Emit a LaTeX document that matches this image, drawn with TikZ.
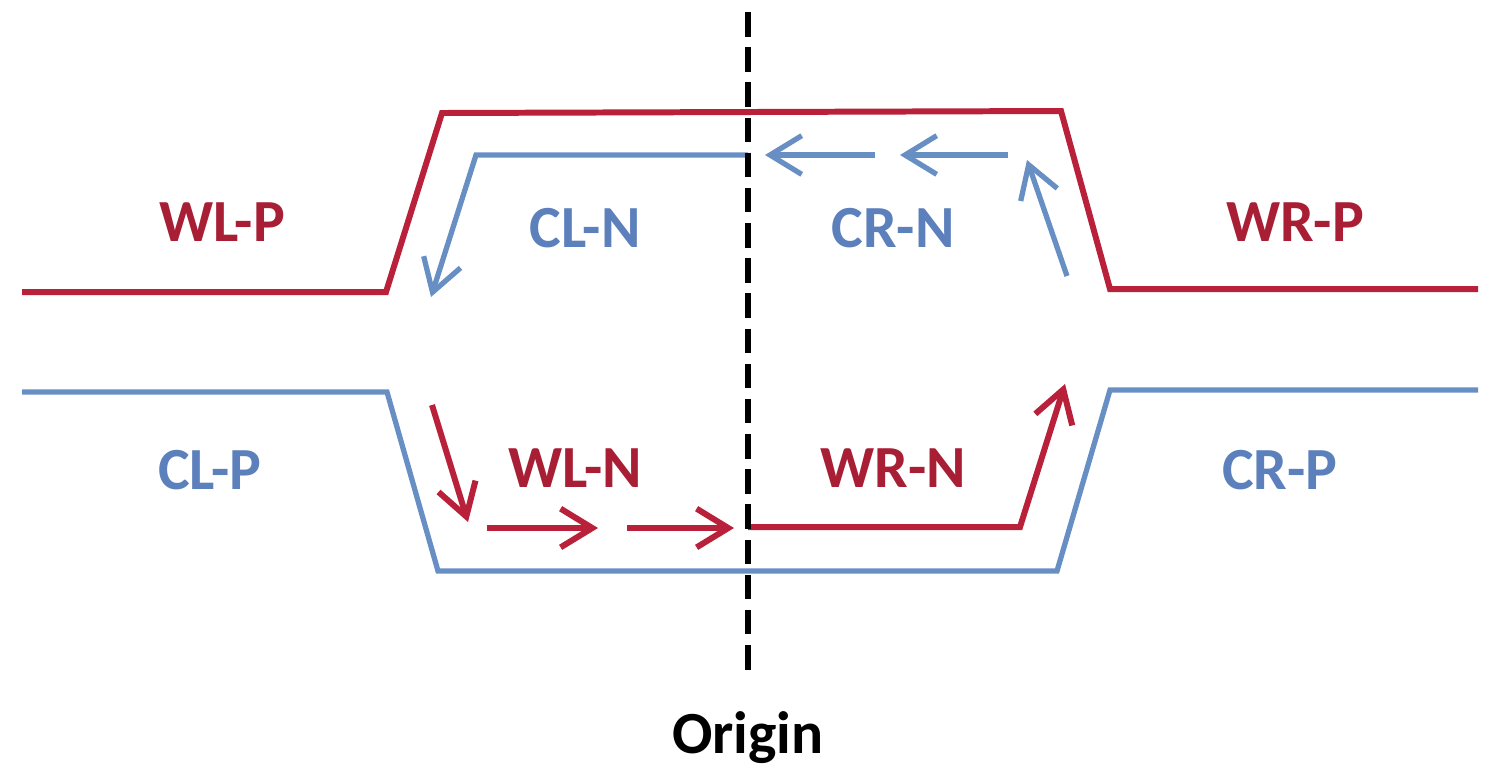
\documentclass[tikz,border=0pt]{standalone}
\usepackage{fontspec}
\setmainfont{Carlito}
\usetikzlibrary{arrows.meta}
\definecolor{wred}{RGB}{185,32,58}
\definecolor{cblue}{RGB}{104,143,196}
\definecolor{tred}{RGB}{168,30,52}
\definecolor{tblue}{RGB}{92,128,188}
\begin{document}
\begin{tikzpicture}[x=0.01cm,y=-0.01cm,
  redline/.style={wred,line width=1.7pt,line join=miter},
  blueline/.style={cblue,line width=1.5pt,line join=miter},
  redarrow/.style={redline,-{Straight Barb[length=9pt,width=11pt,line width=1.7pt]}},
  bluearrow/.style={blueline,-{Straight Barb[length=9pt,width=11pt,line width=1.5pt]}},
  lab/.style={font=\fontsize{17}{20}\selectfont\bfseries},
  redlab/.style={lab,text=tred},
  bluelab/.style={lab,text=tblue}]
\useasboundingbox (0,0) rectangle (1500,781);
% coordinates
\coordinate (a1) at (22,292);   \coordinate (a2) at (386,292);
\coordinate (a3) at (442,113);  \coordinate (a4) at (1061,111);
\coordinate (a5) at (1110,289); \coordinate (a6) at (1478,289);
\coordinate (b1) at (22,392);   \coordinate (b2) at (387,392);
\coordinate (b3) at (438,571);  \coordinate (b4) at (1057,571);
\coordinate (b5) at (1110,390); \coordinate (b6) at (1478,390);
\coordinate (c0) at (748,155);  \coordinate (c1) at (476,155);
\coordinate (c2) at (431,297);
\coordinate (d0) at (748,527);  \coordinate (d1) at (1020,527);
\coordinate (d2) at (1065,384);
\coordinate (e1) at (1008,155); \coordinate (e2) at (900,155);
\coordinate (e3) at (875,155);  \coordinate (e4) at (765,155);
\coordinate (f1) at (1067,276); \coordinate (f2) at (1027,160);
\coordinate (g1) at (432,405);  \coordinate (g2) at (468,522);
\coordinate (h1) at (487,528);  \coordinate (h2) at (598,528);
\coordinate (h3) at (627,528);  \coordinate (h4) at (734,528);
\coordinate (o1) at (748,12);   \coordinate (o2) at (748,672);
% main lines
\draw[redline] (a1) -- (a2) -- (a3) -- (a4) -- (a5) -- (a6);
\draw[blueline] (b1) -- (b2) -- (b3) -- (b4) -- (b5) -- (b6);
\draw[bluearrow] (c0) -- (c1) -- (c2);
\draw[redarrow] (d0) -- (d1) -- (d2);
% small arrows
\draw[bluearrow] (e1) -- (e2);
\draw[bluearrow] (e3) -- (e4);
\draw[bluearrow] (f1) -- (f2);
\draw[redarrow] (g1) -- (g2);
\draw[redarrow] (h1) -- (h2);
\draw[redarrow] (h3) -- (h4);
% origin line
\draw[black,line width=1.6pt,dash pattern=on 7pt off 3pt] (o1) -- (o2);
% labels
\node[redlab] (wlp) at (222,222) {WL-P};
\node[bluelab] (cln) at (585,228) {CL-N};
\node[bluelab] (crn) at (893,228) {CR-N};
\node[redlab] (wrp) at (1295,222) {WR-P};
\node[bluelab] (clp) at (210,470) {CL-P};
\node[redlab] (wln) at (575,468) {WL-N};
\node[redlab] (wrn) at (893,468) {WR-N};
\node[bluelab] (crp) at (1280,470) {CR-P};
\node[lab,text=black] (org) at (748,738) {Origin};
\end{tikzpicture}
\end{document}
